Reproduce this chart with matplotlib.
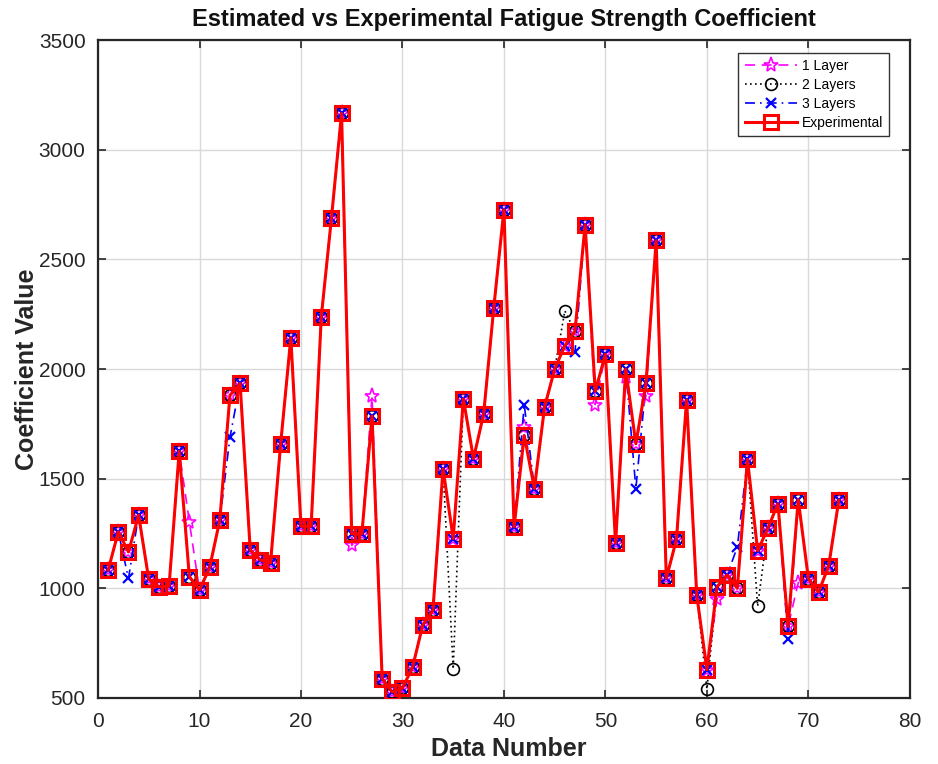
import matplotlib
matplotlib.use("Agg")
import matplotlib.pyplot as plt
import numpy as np

plt.rcParams['font.family'] = ['Liberation Sans', 'DejaVu Sans']

data_number = list(range(1, 74))

experimental = [1083, 1258, 1166, 1334, 1041, 1007, 1010, 1625, 1053, 992,
                1095, 1311, 1880, 1934, 1174, 1129, 1116, 1660, 2143, 1283,
                1283, 2238, 2687, 3166, 1248, 1248, 1786, 588, 527, 545,
                641, 833, 899, 1545, 1227, 1864, 1591, 1795, 2280, 2727,
                1280, 1697, 1455, 1826, 2000, 2106, 2172, 2658, 1898, 2068,
                1205, 2000, 1659, 1935, 2586, 1045, 1223, 1859, 970, 629,
                1008, 1061, 1000, 1588, 1171, 1273, 1386, 826, 1405, 1044,
                982, 1102, 1402]

# Estimates: mostly coincide with experimental, differing at a few points
layer1 = list(experimental)
layer1[9 - 1] = 1303
layer1[25 - 1] = 1196
layer1[27 - 1] = 1875
layer1[42 - 1] = 1735
layer1[49 - 1] = 1838
layer1[52 - 1] = 1962
layer1[54 - 1] = 1879
layer1[61 - 1] = 950
layer1[69 - 1] = 1026

layer2 = list(experimental)
layer2[35 - 1] = 632
layer2[46 - 1] = 2265
layer2[60 - 1] = 541
layer2[65 - 1] = 918

layer3 = list(experimental)
layer3[3 - 1] = 1045
layer3[13 - 1] = 1688
layer3[42 - 1] = 1838
layer3[47 - 1] = 2076
layer3[53 - 1] = 1455
layer3[63 - 1] = 1189
layer3[68 - 1] = 768

fig = plt.figure(figsize=(9.38, 7.64), dpi=100)
ax = fig.add_axes([0.1045, 0.0864, 0.8655, 0.8612])

ax.plot(data_number, layer1, color='magenta', linestyle=(0, (6, 4)), linewidth=1.2,
        marker='*', markersize=11, markerfacecolor='none', markeredgecolor='magenta',
        markeredgewidth=1.2, label='1 Layer', zorder=3)
ax.plot(data_number, layer2, color='black', linestyle=(0, (1, 2)), linewidth=1.2,
        marker='o', markersize=8.5, markerfacecolor='none', markeredgecolor='black',
        markeredgewidth=1.2, label='2 Layers', zorder=3)
ax.plot(data_number, layer3, color='blue', linestyle=(0, (6, 3, 1, 3)), linewidth=1.2,
        marker='x', markersize=7, markeredgewidth=1.6, label='3 Layers', zorder=3)
ax.plot(data_number, experimental, color='red', linestyle='-', linewidth=2.2,
        marker='s', markersize=10.5, markerfacecolor='none', markeredgecolor='red',
        markeredgewidth=2.2, label='Experimental', zorder=4)

ax.set_xlim(0, 80)
ax.set_ylim(500, 3500)
ax.set_xticks(np.arange(0, 81, 10))
ax.set_yticks(np.arange(500, 3501, 500))
ax.grid(True, color='#d9d9d9', linewidth=1.0)
ax.set_axisbelow(True)

ax.tick_params(direction='in', top=True, right=True, labelsize=15, length=6,
               width=1.2, colors='#262626', pad=9)
ax.tick_params(axis='x', pad=10)
for s in ax.spines.values():
    s.set_color('#262626')
    s.set_linewidth(1.6)

ax.set_title('Estimated vs Experimental Fatigue Strength Coefficient',
             fontsize=17, fontweight='bold', pad=10, color='#111111')
ax.set_xlabel('Data Number', fontsize=18, fontweight='bold',
              color='#262626')
ax.xaxis.set_label_coords(0.506, -0.060)
ax.set_ylabel('Coefficient Value', fontsize=18, fontweight='bold', labelpad=0,
              color='#262626')

leg = ax.legend(loc='upper right', bbox_to_anchor=(0.978, 0.985), fontsize=10,
                frameon=True, fancybox=False, edgecolor='black',
                handlelength=3.8, borderpad=0.45, labelspacing=0.35,
                handletextpad=0.3, borderaxespad=0.2)
leg.get_frame().set_linewidth(1.0)

fig.savefig('out.png', dpi=100)
